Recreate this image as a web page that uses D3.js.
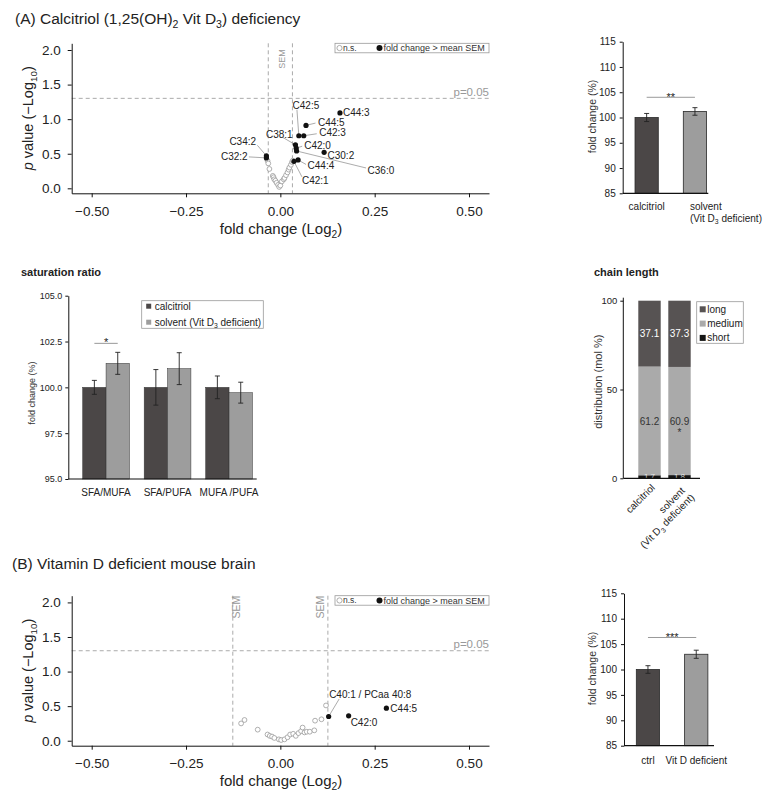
<!DOCTYPE html>
<html>
<head>
<meta charset="utf-8">
<script src="https://cdn.jsdelivr.net/npm/d3@7"></script>
<style>
  body { margin: 0; background: #fff; }
  svg text { font-family: "Liberation Sans", Arial, Helvetica, sans-serif; }
</style>
</head>
<body>
<svg id="fig" width="773" height="801"></svg>
<script>
// ---------- data ----------
// (A) volcano: lipids with fold change > mean SEM
const volcA_sigNames = ["C44:3", "C44:5", "C42:5", "C42:3", "C38:1", "C42:0", "C36:0", "C30:2", "C44:4", "C42:1", "C34:2", "C32:2"];
const volcA_sigFC = [0.158, 0.068, 0.049, 0.062, 0.040, 0.042, 0.043, 0.116, 0.047, 0.036, -0.037, -0.037];
const volcA_sigP  = [1.09, 0.91, 0.76, 0.76, 0.63, 0.58, 0.54, 0.52, 0.41, 0.39, 0.47, 0.44];
// (A) volcano: n.s.
const volcA_nsFC = [-0.034, -0.032, -0.029, -0.020, -0.018, -0.016, -0.013, -0.010, -0.006, -0.003, 0.000, 0.004, 0.009, 0.011, 0.015, 0.019, 0.022, 0.024, 0.028, 0.031, 0.033];
const volcA_nsP  = [0.40, 0.36, 0.28, 0.18, 0.16, 0.13, 0.11, 0.08, 0.05, 0.02, 0.04, 0.10, 0.13, 0.15, 0.19, 0.23, 0.27, 0.30, 0.34, 0.38, 0.40];
const volcA_sem = 0.032;

// (B) volcano
const volcB_sigNames = ["C40:1 / PCaa 40:8", "C42:0", "C44:5"];
const volcB_sigFC = [0.128, 0.181, 0.281];
const volcB_sigP  = [0.35, 0.36, 0.47];
const volcB_nsFC = [-0.104, -0.095, -0.060, -0.034, -0.028, -0.022, -0.016, -0.004, 0.002, 0.011, 0.019, 0.026, 0.034, 0.041, 0.048, 0.055, 0.059, 0.064, 0.070, 0.078, 0.090, 0.092, 0.109, 0.121];
const volcB_nsP  = [0.25, 0.30, 0.16, 0.09, 0.07, 0.06, 0.04, 0.02, 0.01, 0.02, 0.05, 0.09, 0.10, 0.07, 0.11, 0.14, 0.19, 0.12, 0.13, 0.13, 0.15, 0.29, 0.31, 0.51];
const volcB_sem = 0.126;

const pThreshold = 1.301; // -log10(0.05)
const volcTicksX = [-0.5, -0.25, 0, 0.25, 0.5];
const volcTicksY = [0, 0.5, 1.0, 1.5, 2.0];

// (A) total fold change
const barA_cats = ["calcitriol", "solvent"];
const barA_vals = [100.0, 101.2];
const barA_errs = [0.8, 0.75];
const barA_sig = "**";

// saturation ratio
const sat_cats = ["SFA/MUFA", "SFA/PUFA", "MUFA /PUFA"];
const sat_series = ["calcitriol", "solvent"];
const sat_calcitriol = [100.0, 100.0, 100.0];
const sat_calcitriolErr = [0.38, 0.97, 0.62];
const sat_solvent = [101.31, 101.02, 99.71];
const sat_solventErr = [0.6, 0.87, 0.57];

// chain length (mol %)
const chain_cats = ["calcitriol", "solvent"];
const chain_keys = ["short", "medium", "long"];
const chain_short = [1.7, 1.8];
const chain_medium = [61.2, 60.9];
const chain_long = [37.1, 37.3];

// (B) total fold change
const barB_cats = ["ctrl", "Vit D deficient"];
const barB_vals = [100.0, 103.0];
const barB_errs = [0.75, 0.8];
const barB_sig = "***";

// ---------- drawing ----------
const svg = d3.select("#fig");
const DARK = "#4b4747", GREY = "#9d9d9d";

// text with subscript pieces: parts = [[string, isSub], ...]
function rich(textSel, parts, fs) {
  let down = false;
  parts.forEach(([s, sub]) => {
    const t = textSel.append("tspan").text(s);
    if (sub) {
      t.attr("font-size", fs * 0.68);
      if (!down) { t.attr("dy", fs * 0.28); down = true; }
    } else if (down) {
      t.attr("dy", -fs * 0.28); down = false;
    }
  });
  return textSel;
}

function styleAxis(ax, fs) {
  ax.selectAll("text").attr("font-size", fs).attr("fill", "#222");
  ax.selectAll("path,line").attr("stroke", "#111");
}

// label placement: [dx, dy, anchor, leaderEnd or null] in px relative to the point
const labelLayoutA = {
  "C44:3": [3, 0, "start", null],
  "C44:5": [12, -2.5, "start", [9.5, -2.3]],
  "C42:5": [-6.3, -30.7, "start", [-1.9, -26]],
  "C42:3": [15.5, -3, "start", [13, -2]],
  "C38:1": [-2.8, -10.7, "end", [-12.8, -7.4]],
  "C42:0": [8, -2.5, "start", [6, -2]],
  "C36:0": [71, 19.1, "start", [69.5, 17]],
  "C30:2": [3.4, 2.7, "start", null],
  "C44:4": [9.5, 6, "start", [8, 4.5]],
  "C42:1": [8, 19.4, "start", [8, 15.5]],
  "C34:2": [-10.3, -14, "end", [-9, -10.5]],
  "C32:2": [-18.7, -1.2, "end", [-17.5, -1]]
};
const labelLayoutB = {
  "C40:1 / PCaa 40:8": [0.5, -22.5, "start", [10.5, -17.5]],
  "C42:0": [2, 6.6, "start", null],
  "C44:5": [4, 0, "start", null]
};

function drawVolcano(cfg) {
  const g = svg.append("g");
  const x = d3.scaleLinear().domain([-0.553, 0.553]).range([71.7, 489]);
  const y = d3.scaleLinear().domain([-0.072, 2.097]).range([cfg.bottom, cfg.top]);

  // reference lines
  g.append("line")
    .attr("x1", x.range()[0]).attr("x2", x.range()[1])
    .attr("y1", y(pThreshold)).attr("y2", y(pThreshold))
    .attr("stroke", "#aaa").attr("stroke-dasharray", "4,3");
  [-cfg.sem, cfg.sem].forEach(s => {
    g.append("line")
      .attr("x1", x(s)).attr("x2", x(s))
      .attr("y1", cfg.top).attr("y2", cfg.bottom)
      .attr("stroke", "#aaa").attr("stroke-dasharray", "4,3");
  });
  cfg.semLabels.forEach(([side, dx]) => {
    g.append("text")
      .attr("transform", `translate(${x(side * cfg.sem) + dx},${cfg.top + cfg.semTop}) rotate(-90)`)
      .attr("text-anchor", "end")
      .attr("font-size", cfg.semFs)
      .attr("fill", "#999")
      .text("SEM");
  });
  g.append("text")
    .attr("x", x.range()[1]).attr("y", y(pThreshold) - 2.5)
    .attr("text-anchor", "end").attr("font-size", 11.5).attr("fill", "#999")
    .text("p=0.05");

  // axes
  const ax = g.append("g").attr("transform", `translate(0,${cfg.bottom})`)
    .call(d3.axisBottom(x).tickValues(volcTicksX).tickFormat(d3.format(".2f")).tickSize(4).tickPadding(9).tickSizeOuter(0));
  styleAxis(ax, 13.5);
  const ay = g.append("g").attr("transform", `translate(${x.range()[0]},0)`)
    .call(d3.axisLeft(y).tickValues(volcTicksY).tickFormat(d3.format(".1f")).tickSize(4).tickPadding(7).tickSizeOuter(0));
  styleAxis(ay, 13.5);

  rich(g.append("text").attr("x", 281).attr("y", cfg.bottom + 40.5)
    .attr("text-anchor", "middle").attr("font-size", 15).attr("fill", "#222"),
    [["fold change (Log", false], ["2", true], [")", false]], 15);
  const yt = g.append("text")
    .attr("transform", `translate(33,${(cfg.top + cfg.bottom) / 2}) rotate(-90)`)
    .attr("text-anchor", "middle").attr("font-size", 14.5).attr("fill", "#222");
  yt.append("tspan").attr("font-style", "italic").text("p");
  rich(yt, [[" value (\u2212Log", false], ["10", true], [")", false]], 14.5);

  // n.s. points
  g.append("g").selectAll("circle")
    .data(cfg.nsFC.map((d, i) => ({ fc: d, p: cfg.nsP[i] })))
    .join("circle")
    .attr("cx", d => x(d.fc)).attr("cy", d => y(d.p)).attr("r", 2.4)
    .attr("fill", "#fff").attr("stroke", "#9a9a9a").attr("stroke-width", 0.8);

  // significant points with labels
  const sig = cfg.sigNames.map((n, i) => ({ name: n, fc: cfg.sigFC[i], p: cfg.sigP[i] }));
  const lab = g.append("g");
  sig.forEach(d => {
    const px = x(d.fc), py = y(d.p);
    const [dx, dy, anchor, lead] = cfg.layout[d.name];
    if (lead) {
      lab.append("line")
        .attr("x1", px).attr("y1", py).attr("x2", px + lead[0]).attr("y2", py + lead[1])
        .attr("stroke", "#888").attr("stroke-width", 0.7);
    }
    lab.append("text")
      .attr("x", px + dx).attr("y", py + dy).attr("dy", "0.35em")
      .attr("text-anchor", anchor).attr("font-size", 10).attr("fill", "#222")
      .text(d.name);
  });
  g.append("g").selectAll("circle")
    .data(sig)
    .join("circle")
    .attr("cx", d => x(d.fc)).attr("cy", d => y(d.p)).attr("r", 2.6)
    .attr("fill", "#111");

  // legend
  const lg = g.append("g").attr("transform", `translate(335,${cfg.top})`);
  lg.append("rect").attr("width", 154).attr("height", 9.5)
    .attr("fill", "#fff").attr("stroke", "#999").attr("stroke-width", 0.8);
  lg.append("circle").attr("cx", 4.5).attr("cy", 4.75).attr("r", 2.6)
    .attr("fill", "#fff").attr("stroke", "#999").attr("stroke-width", 0.8);
  lg.append("text").attr("x", 8).attr("y", 4.75).attr("dy", "0.35em")
    .attr("font-size", 8.5).attr("fill", "#333").text("n.s.");
  lg.append("circle").attr("cx", 44.5).attr("cy", 4.75).attr("r", 3).attr("fill", "#111");
  lg.append("text").attr("x", 48.5).attr("y", 4.75).attr("dy", "0.35em")
    .attr("font-size", 9).attr("fill", "#333").text("fold change > mean SEM");
}

function errorBar(g, cx, yTop, yBot) {
  g.append("line").attr("x1", cx).attr("x2", cx).attr("y1", yTop).attr("y2", yBot)
    .attr("stroke", "#222").attr("stroke-width", 0.9);
  [yTop, yBot].forEach(yy => g.append("line")
    .attr("x1", cx - 2.5).attr("x2", cx + 2.5).attr("y1", yy).attr("y2", yy)
    .attr("stroke", "#222").attr("stroke-width", 0.9));
}

function drawTwoBars(cfg) {
  const g = svg.append("g");
  const y = d3.scaleLinear().domain([85, 115]).range([cfg.bottom, cfg.top]);
  const x = d3.scaleBand().domain(cfg.cats).range([cfg.axisX, cfg.axisX + 96.2])
    .paddingInner(0.518).paddingOuter(0.255);
  const colors = [DARK, GREY];
  g.selectAll("rect.bar")
    .data(cfg.cats.map((c, i) => ({ c, v: cfg.vals[i], e: cfg.errs[i], col: colors[i] })))
    .join("rect")
    .attr("x", d => x(d.c)).attr("width", x.bandwidth())
    .attr("y", d => y(d.v)).attr("height", d => y(85) - y(d.v))
    .attr("fill", d => d.col).attr("stroke", "#2a2a2a").attr("stroke-width", 0.8);
  cfg.cats.forEach((c, i) => {
    const cx = x(c) + x.bandwidth() / 2;
    errorBar(g, cx, y(cfg.vals[i] + cfg.errs[i]), y(cfg.vals[i] - cfg.errs[i]));
  });
  const ay = g.append("g").attr("transform", `translate(${cfg.axisX},0)`)
    .call(d3.axisLeft(y).tickValues([85, 90, 95, 100, 105, 110, 115]).tickSize(3).tickPadding(4).tickSizeOuter(0));
  styleAxis(ay, 10);
  g.append("line").attr("x1", cfg.axisX).attr("x2", cfg.axisEnd)
    .attr("y1", cfg.bottom).attr("y2", cfg.bottom).attr("stroke", "#111").attr("stroke-width", 1.2);
  // significance
  const c0 = x(cfg.cats[0]) + x.bandwidth() / 2, c1 = x(cfg.cats[1]) + x.bandwidth() / 2;
  g.append("line").attr("x1", c0).attr("x2", c1)
    .attr("y1", y(cfg.sigAt)).attr("y2", y(cfg.sigAt)).attr("stroke", "#999");
  g.append("text").attr("x", (c0 + c1) / 2).attr("y", y(cfg.sigAt) + 3.3)
    .attr("text-anchor", "middle").attr("font-size", 11).attr("fill", "#222").text(cfg.sig);
  g.append("text")
    .attr("transform", `translate(596,${(cfg.top + cfg.bottom) / 2 - 1}) rotate(-90)`)
    .attr("text-anchor", "middle").attr("font-size", 10.5).attr("fill", "#333").text("fold change (%)");
  cfg.drawLabels(g, x);
}

// ----- section titles -----
rich(svg.append("text").attr("x", 15).attr("y", 24).attr("font-size", 15.5).attr("fill", "#222"),
  [["(A) Calcitriol (1,25(OH)", false], ["2", true], [" Vit D", false], ["3", true], [") deficiency", false]], 15.5);
svg.append("text").attr("x", 12).attr("y", 569).attr("font-size", 15.5).attr("fill", "#222")
  .text("(B) Vitamin D deficient mouse brain");
svg.append("text").attr("x", 21).attr("y", 276).attr("font-size", 11).attr("font-weight", "bold")
  .attr("fill", "#222").text("saturation ratio");
svg.append("text").attr("x", 594).attr("y", 276).attr("font-size", 11).attr("font-weight", "bold")
  .attr("fill", "#222").text("chain length");

// ----- volcanoes -----
drawVolcano({
  top: 43.3, bottom: 193.3, sem: volcA_sem, semLabels: [[1, -7.5]], semTop: 6, semFs: 9,
  nsFC: volcA_nsFC, nsP: volcA_nsP, sigNames: volcA_sigNames, sigFC: volcA_sigFC, sigP: volcA_sigP,
  layout: labelLayoutA
});
drawVolcano({
  top: 595.7, bottom: 745.7, sem: volcB_sem, semLabels: [[-1, 7.5], [1, -3.5]], semTop: 0, semFs: 10.5,
  nsFC: volcB_nsFC, nsP: volcB_nsP, sigNames: volcB_sigNames, sigFC: volcB_sigFC, sigP: volcB_sigP,
  layout: labelLayoutB
});

// ----- two-bar charts -----
drawTwoBars({
  cats: barA_cats, vals: barA_vals, errs: barA_errs, sig: barA_sig, sigAt: 104.0,
  top: 41.7, bottom: 193.3, axisX: 622.7, axisEnd: 708.3,
  drawLabels: (g, x) => {
    g.append("text").attr("x", x(barA_cats[0]) + x.bandwidth() / 2).attr("y", 210)
      .attr("text-anchor", "middle").attr("font-size", 10).attr("fill", "#222").text("calcitriol");
    g.append("text").attr("x", 690).attr("y", 210).attr("font-size", 10).attr("fill", "#222").text("solvent");
    rich(g.append("text").attr("x", 690).attr("y", 221.5).attr("font-size", 10).attr("fill", "#222"),
      [["(Vit D", false], ["3", true], [" deficient)", false]], 10);
  }
});
drawTwoBars({
  cats: barB_cats, vals: barB_vals, errs: barB_errs, sig: barB_sig, sigAt: 106.3,
  top: 593.3, bottom: 745.7, axisX: 624, axisEnd: 714,
  drawLabels: (g, x) => {
    barB_cats.forEach(c => g.append("text").attr("x", x(c) + x.bandwidth() / 2).attr("y", 764)
      .attr("text-anchor", "middle").attr("font-size", 10).attr("fill", "#222").text(c));
  }
});

// ----- saturation ratio -----
(function () {
  const g = svg.append("g");
  const top = 295.7, bottom = 479, axisX = 68.3;
  const y = d3.scaleLinear().domain([95, 105]).range([bottom, top]);
  const x0 = d3.scaleBand().domain(sat_cats).range([axisX, 266.8]).paddingInner(0.24).paddingOuter(0.234);
  const x1 = d3.scaleBand().domain(sat_series).range([0, x0.bandwidth()]);
  const vals = { calcitriol: sat_calcitriol, solvent: sat_solvent };
  const errs = { calcitriol: sat_calcitriolErr, solvent: sat_solventErr };
  const col = { calcitriol: DARK, solvent: GREY };
  const rows = [];
  sat_cats.forEach((c, i) => sat_series.forEach(s => rows.push({ c, s, v: vals[s][i], e: errs[s][i] })));
  g.selectAll("rect").data(rows).join("rect")
    .attr("x", d => x0(d.c) + x1(d.s)).attr("width", x1.bandwidth())
    .attr("y", d => y(d.v)).attr("height", d => y(95) - y(d.v))
    .attr("fill", d => col[d.s]).attr("stroke", "#333").attr("stroke-width", 0.5);
  rows.forEach(d => {
    const cx = x0(d.c) + x1(d.s) + x1.bandwidth() / 2;
    errorBar(g, cx, y(d.v + d.e), y(d.v - d.e));
  });
  const ay = g.append("g").attr("transform", `translate(${axisX},0)`)
    .call(d3.axisLeft(y).tickValues([95, 97.5, 100, 102.5, 105]).tickFormat(d3.format(".1f")).tickSize(3).tickPadding(3).tickSizeOuter(0));
  styleAxis(ay, 9);
  g.append("line").attr("x1", axisX).attr("x2", 256.7).attr("y1", bottom).attr("y2", bottom)
    .attr("stroke", "#111").attr("stroke-width", 1.2);
  sat_cats.forEach(c => g.append("text").attr("x", x0(c) + x0.bandwidth() / 2).attr("y", 496)
    .attr("text-anchor", "middle").attr("font-size", 10).attr("fill", "#222").text(c));
  g.append("text").attr("transform", `translate(35,393) rotate(-90)`)
    .attr("text-anchor", "middle").attr("font-size", 9).attr("fill", "#333").text("fold change (%)");
  // significance between SFA/MUFA bars
  const a = x0(sat_cats[0]) + x1("calcitriol") + x1.bandwidth() / 2;
  const b = x0(sat_cats[0]) + x1("solvent") + x1.bandwidth() / 2;
  g.append("line").attr("x1", a).attr("x2", b).attr("y1", y(102.4)).attr("y2", y(102.4)).attr("stroke", "#999");
  g.append("text").attr("x", (a + b) / 2).attr("y", y(102.4) + 3).attr("text-anchor", "middle")
    .attr("font-size", 11).attr("fill", "#222").text("*");
  // legend
  const lg = g.append("g").attr("transform", "translate(141.7,300.7)");
  lg.append("rect").attr("width", 121.6).attr("height", 27.6).attr("fill", "#fff")
    .attr("stroke", "#999").attr("stroke-width", 0.8);
  lg.append("rect").attr("x", 4.5).attr("y", 3).attr("width", 5).attr("height", 5).attr("fill", DARK);
  lg.append("text").attr("x", 13).attr("y", 5.5).attr("dy", "0.35em").attr("font-size", 10).attr("fill", "#222").text("calcitriol");
  lg.append("rect").attr("x", 4.5).attr("y", 19).attr("width", 5).attr("height", 5).attr("fill", GREY);
  rich(lg.append("text").attr("x", 13).attr("y", 25).attr("font-size", 10).attr("fill", "#222"),
    [["solvent (Vit D", false], ["3", true], [" deficient)", false]], 10);
})();

// ----- chain length (stacked) -----
(function () {
  const g = svg.append("g");
  const top = 300.7, bottom = 478.3, axisX = 623.3;
  const y = d3.scaleLinear().domain([0, 100]).range([bottom, top]);
  const x = d3.scaleBand().domain(chain_cats).range([axisX, 705.7]).paddingInner(0.253).paddingOuter(0.5);
  const table = chain_cats.map((c, i) => ({ cat: c, short: chain_short[i], medium: chain_medium[i], long: chain_long[i] }));
  const series = d3.stack().keys(chain_keys)(table);
  const col = { short: "#151515", medium: "#aaaaaa", long: "#575353" };
  g.selectAll("g.layer").data(series).join("g").attr("fill", d => col[d.key])
    .selectAll("rect").data(d => d).join("rect")
    .attr("x", d => x(d.data.cat)).attr("width", x.bandwidth())
    .attr("y", d => y(d[1])).attr("height", d => y(d[0]) - y(d[1]));
  // value labels
  series.forEach(s => {
    s.forEach(d => {
      const cx = x(d.data.cat) + x.bandwidth() / 2;
      if (s.key === "short") {
        g.append("text").attr("x", cx).attr("y", bottom + 0.5).attr("text-anchor", "middle")
          .attr("font-size", 8).attr("fill", "#fff").attr("opacity", 0.75).text(d.data.short.toFixed(1));
      } else {
        g.append("text").attr("x", cx).attr("y", y((d[0] + d[1]) / 2) + 3.6).attr("text-anchor", "middle")
          .attr("font-size", 10).attr("fill", s.key === "long" ? "#fff" : "#333")
          .text(d.data[s.key].toFixed(1));
      }
    });
  });
  const mid = series[1][1];
  g.append("text").attr("x", x(chain_cats[1]) + x.bandwidth() / 2).attr("y", y((mid[0] + mid[1]) / 2) + 14.5)
    .attr("text-anchor", "middle").attr("font-size", 10).attr("fill", "#333").text("*");

  const ay = g.append("g").attr("transform", `translate(${axisX},0)`)
    .call(d3.axisLeft(y).tickValues([0, 50, 100]).tickSize(3).tickPadding(3).tickSizeOuter(0));
  styleAxis(ay, 9.5);
  ay.select(".domain").attr("d", `M0,${bottom}V${top - 3}`);
  g.append("line").attr("x1", axisX).attr("x2", 700).attr("y1", bottom).attr("y2", bottom)
    .attr("stroke", "#111").attr("stroke-width", 1.2);
  g.append("text").attr("transform", `translate(602,381.7) rotate(-90)`)
    .attr("text-anchor", "middle").attr("font-size", 11).attr("fill", "#333").text("distribution (mol %)");

  // rotated category labels
  const c0 = x(chain_cats[0]) + x.bandwidth() / 2, c1 = x(chain_cats[1]) + x.bandwidth() / 2;
  g.append("text").attr("transform", `translate(${c0 + 6},${bottom + 10}) rotate(-45)`)
    .attr("text-anchor", "end").attr("font-size", 10).attr("fill", "#222").text("calcitriol");
  const t2 = g.append("text").attr("transform", `translate(${c1 + 6},${bottom + 13}) rotate(-45)`)
    .attr("text-anchor", "end").attr("font-size", 10).attr("fill", "#222");
  t2.append("tspan").attr("x", 0).text("solvent");
  const l2 = t2.append("tspan").attr("x", 2).attr("dy", 11.5);
  rich(l2, [["(Vit D", false], ["3", true], [" deficient)", false]], 10);

  // legend
  const lg = g.append("g").attr("transform", "translate(696.7,301.7)");
  lg.append("rect").attr("width", 46.6).attr("height", 41.6).attr("fill", "#fff")
    .attr("stroke", "#999").attr("stroke-width", 0.8);
  ["long", "medium", "short"].forEach((k, i) => {
    const yy = 7.6 + i * 14.3;
    lg.append("rect").attr("x", 3).attr("y", yy - 3).attr("width", 6).attr("height", 6).attr("fill", col[k]);
    lg.append("text").attr("x", 10.5).attr("y", yy).attr("dy", "0.35em")
      .attr("font-size", 10).attr("fill", "#222").text(k);
  });
})();
</script>
</body>
</html>
